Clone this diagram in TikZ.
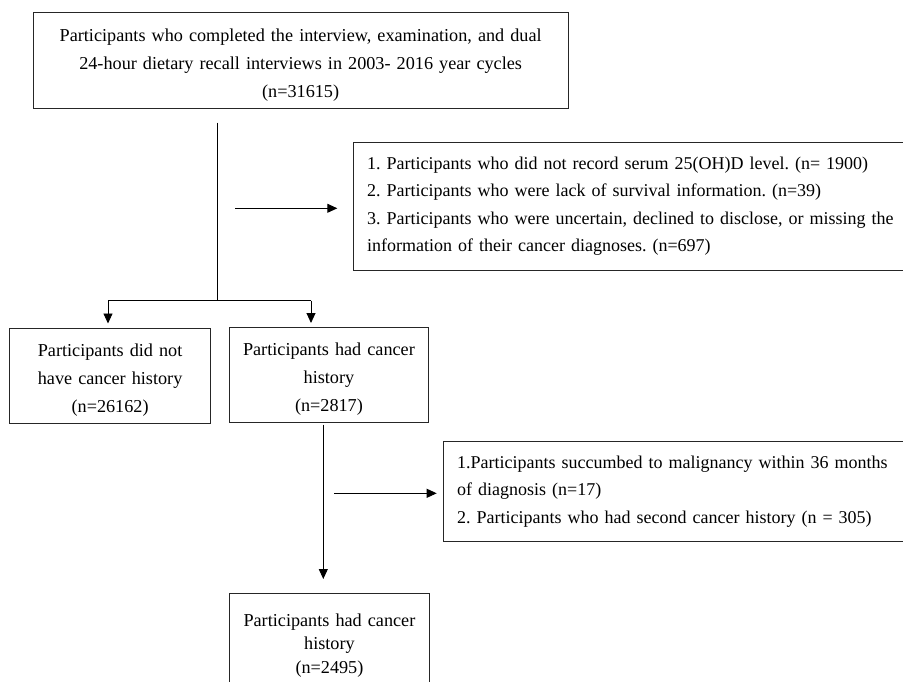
\documentclass[tikz,border=0pt]{standalone}
\usepackage{fontspec}
\setmainfont{Liberation Serif}
\usetikzlibrary{arrows.meta}
\frenchspacing
\begin{document}
\begin{tikzpicture}[x=1pt,y=-1pt,
  box/.style={draw=black!85,line width=0.9pt,inner sep=0pt,anchor=north west,
    font=\frenchspacing\fontsize{18.2}{28}\selectfont},
  cbox/.style={box,align=center},
  lowtext/.style={execute at begin node={\rule{0pt}{21pt}}},
  exbox/.style={box,align=left,inner xsep=13.4pt,font=\frenchspacing\fontsize{18}{27.3}\selectfont},
  conn/.style={line width=0.9pt,black},
  arr/.style={conn,-{Triangle[length=10pt,width=9pt]}}]
\useasboundingbox (0,0) rectangle (903,682);
\clip (0,0) rectangle (903,682);

\node[cbox,lowtext,text width=535pt,minimum height=95.5pt] (top) at (32.7,12.3)
  {Participants who completed the interview, examination, and dual\\
   24-hour dietary recall interviews in 2003- 2016 year cycles\\
   (n=31615)};

\node[exbox,text width=560pt,minimum height=128.3pt] (ex1) at (353.3,141.7)
  {1. Participants who did not record serum 25(OH)D level. (n= 1900)\\
   2. Participants who were lack of survival information. (n=39)\\
   3. Participants who were uncertain, declined to disclose, or missing the\\
   information of their cancer diagnoses. (n=697)};

\node[cbox,lowtext,text width=200.7pt,minimum height=94.7pt] (lbox) at (9.3,328)
  {Participants did not\\ have cancer history\\ (n=26162)};

\node[cbox,lowtext,text width=199.6pt,minimum height=94.7pt] (mbox) at (228.7,327)
  {Participants had cancer\\ history\\ (n=2817)};

\node[exbox,text width=460pt,minimum height=99.4pt] (ex2) at (443.3,441.3)
  {1.Participants succumbed to malignancy within 36 months\\
   of diagnosis (n=17)\\
   2. Participants who had second cancer history (n = 305)};

\node[cbox,text width=200pt,minimum height=105pt,font=\frenchspacing\fontsize{18.2}{23.5}\selectfont] (bbox) at (229,592.5)
  {Participants had cancer\\ history\\ (n=2495)};

% coordinates for connector free ends
\coordinate (t1) at (217,122.7);
\coordinate (t2) at (217,300.7);
\coordinate (b1) at (108,300.7);
\coordinate (b2) at (311,300.7);
\coordinate (a1) at (235,208.3);
\coordinate (m1) at (323.3,424.5);
\coordinate (a2) at (334,493.3);

\draw[conn] (t1) -- (t2);
\draw[conn] (b1) -- (b2);
\draw[arr,shorten >=4.5pt] (b1) -- (b1 |- lbox.north);
\draw[arr,shorten >=4pt] (b2) -- (b2 |- mbox.north);
\draw[arr,shorten >=16pt] (a1) -- (a1 -| ex1.west);
\draw[arr,shorten >=13.5pt] (m1) -- (m1 |- bbox.north);
\draw[arr,shorten >=6.6pt] (a2) -- (a2 -| ex2.west);
\end{tikzpicture}
\end{document}
